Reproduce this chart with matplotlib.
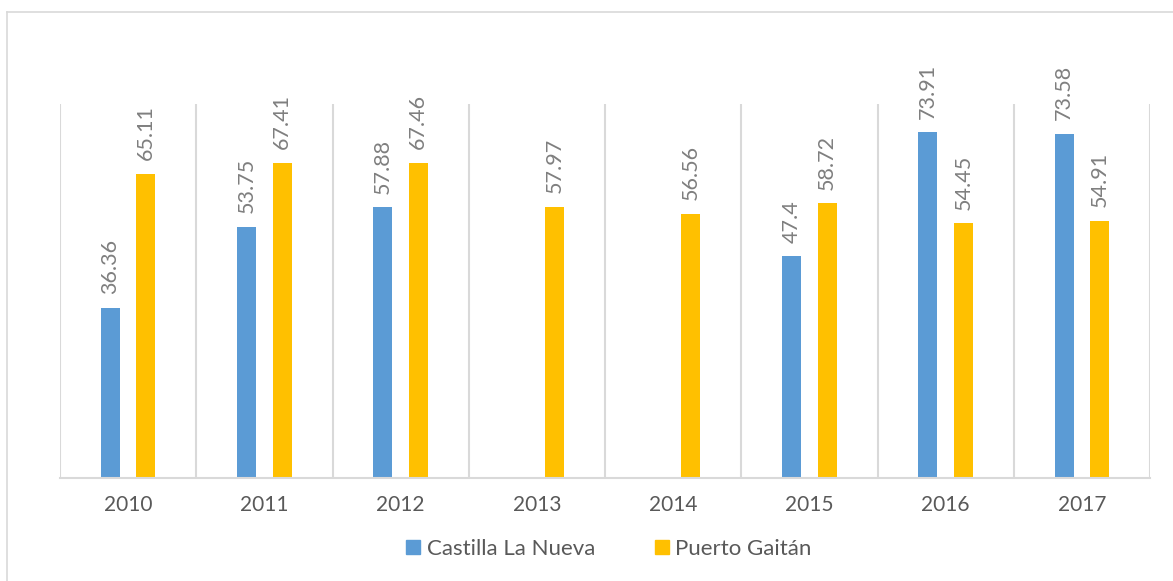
import numpy as np
import matplotlib.pyplot as plt
from matplotlib.lines import Line2D

plt.rcParams['font.family'] = ['Lato', 'DejaVu Sans']

years = ['2010', '2011', '2012', '2013', '2014', '2015', '2016', '2017']
castilla = [36.36, 53.75, 57.88, np.nan, np.nan, 47.4, 73.91, 73.58]
puerto = [65.11, 67.41, 67.46, 57.97, 56.56, 58.72, 54.45, 54.91]

blue = '#5B9BD5'
gold = '#FFC000'
grid_c = '#D9D9D9'
text_c = '#595959'

fig = plt.figure(figsize=(11.73, 5.81), dpi=100)
ax = fig.add_axes([60 / 1173, 1 - 478 / 581, 1090 / 1173, 374 / 581])

x = np.arange(len(years))
w = 0.14
off = 0.13
ax.bar(x - off, castilla, w, color=blue, label='Castilla La Nueva')
ax.bar(x + off, puerto, w, color=gold, label='Puerto Gaitán')

# etiquetas de datos rotadas
for xi, v in zip(x, castilla):
    if not np.isnan(v):
        ax.annotate(f'{v:g}', (xi - off, v), xytext=(0, 10), textcoords='offset points',
                    rotation=90, ha='center', va='bottom', fontsize=15.5, color='#7F7F7F')
for xi, v in zip(x, puerto):
    ax.annotate(f'{v:g}', (xi + off, v), xytext=(0, 10), textcoords='offset points',
                rotation=90, ha='center', va='bottom', fontsize=15.5, color='#7F7F7F')

ax.set_xlim(-0.5, len(years) - 0.5)
ax.set_ylim(0, 80)
ax.set_yticks([])
ax.set_xticks(x)
ax.set_xticklabels(years, fontsize=15, color=text_c)
ax.tick_params(axis='x', length=0, pad=12)

# separadores verticales entre categorias
for b in np.arange(-0.5, len(years), 1.0):
    ax.axvline(b, color=grid_c, lw=1.5, zorder=0)

for s in ['top', 'left', 'right']:
    ax.spines[s].set_visible(False)
ax.spines['bottom'].set_color(grid_c)
ax.spines['bottom'].set_linewidth(1.5)

handles = [Line2D([], [], marker='s', ls='', color=blue, markersize=9.5),
           Line2D([], [], marker='s', ls='', color=gold, markersize=9.5)]
leg = fig.legend(handles, ['Castilla La Nueva', 'Puerto Gaitán'], loc='center',
                 bbox_to_anchor=(608 / 1173, 1 - 549 / 581), ncol=2, frameon=False,
                 fontsize=16, handletextpad=0.2, columnspacing=2.6, handlelength=0.8)
for t in leg.get_texts():
    t.set_color(text_c)

# borde exterior del grafico
fig.add_artist(Line2D([7 / 1173, 7 / 1173], [0, 1 - 12 / 581], color=grid_c, lw=1.2))
fig.add_artist(Line2D([7 / 1173, 1], [1 - 12 / 581, 1 - 12 / 581], color=grid_c, lw=1.2))

fig.savefig('out.png', dpi=100)
